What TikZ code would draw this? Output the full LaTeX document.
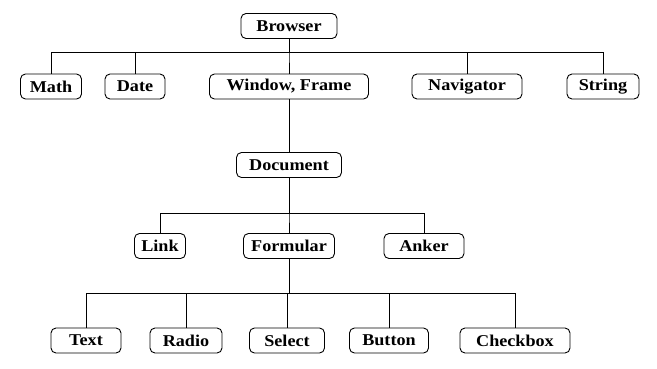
\documentclass[tikz,border=0pt]{standalone}
\usepackage{fontspec}
\setmainfont{Liberation Serif}[FakeStretch=1.1]
\usepackage{tikz}
\usetikzlibrary{positioning, calc}

\begin{document}
\begin{tikzpicture}[
    x=1pt, y=-1pt,
    font=\fontsize{16.5}{18}\selectfont\bfseries,
    % Styles
    objbox/.style={
      draw=black,
      line width=0.9pt,
      fill=white,
      rounded corners=5pt,
      align=center,
      minimum height=25pt,
      inner sep=0pt
    },
    branch/.style={
      line width=0.9pt,
      draw=black
    }
  ]

    \useasboundingbox (0,0) rectangle (657,368);

    % Bus coordinates
    \coordinate (bus1) at (0,52);
    \coordinate (bus2) at (0,213);
    \coordinate (bus3) at (0,293);

    % Top level
    \node (browser) [objbox, minimum width=96pt] at (289,26) {Browser};

    % Second row
    \node (math) [objbox, minimum width=61pt] at (51,86.5) {Math};
    \node (date) [objbox, minimum width=60pt] at (135,86.5) {Date};
    \node (window) [objbox, minimum width=159pt] at (289,86.5) {Window, Frame};
    \node (navigator) [objbox, minimum width=110pt] at (467,86.5) {Navigator};
    \node (string) [objbox, minimum width=72pt] at (603,86.5) {String};

    % Document
    \node (document) [objbox, minimum width=105pt] at (289,165) {Document};

    % Fourth row
    \node (link) [objbox, minimum width=51pt] at (160,246) {Link};
    \node (formular) [objbox, minimum width=91pt] at (289,246) {Formular};
    \node (anker) [objbox, minimum width=80pt] at (424,246) {Anker};

    % Form elements
    \node (text) [objbox, minimum width=70pt] at (86,340.5) {Text};
    \node (radio) [objbox, minimum width=72pt] at (186,340.5) {Radio};
    \node (select) [objbox, minimum width=75pt] at (287,340.5) {Select};
    \node (button) [objbox, minimum width=79pt] at (389,340.5) {Button};
    \node (checkbox) [objbox, minimum width=110pt] at (515,340.5) {Checkbox};

    % Connections
    \foreach \child in {math, date, window, navigator, string}
      \draw [branch] (browser.south) -- (browser.south |- bus1) -| (\child.north);

    \draw [branch] (window.south) -- (document.north);

    \foreach \child in {link, formular, anker}
      \draw [branch] (document.south) -- (document.south |- bus2) -| (\child.north);

    \foreach \child in {text, radio, select, button, checkbox}
      \draw [branch] (formular.south) -- (formular.south |- bus3) -| (\child.north);

  \end{tikzpicture}
\end{document}
